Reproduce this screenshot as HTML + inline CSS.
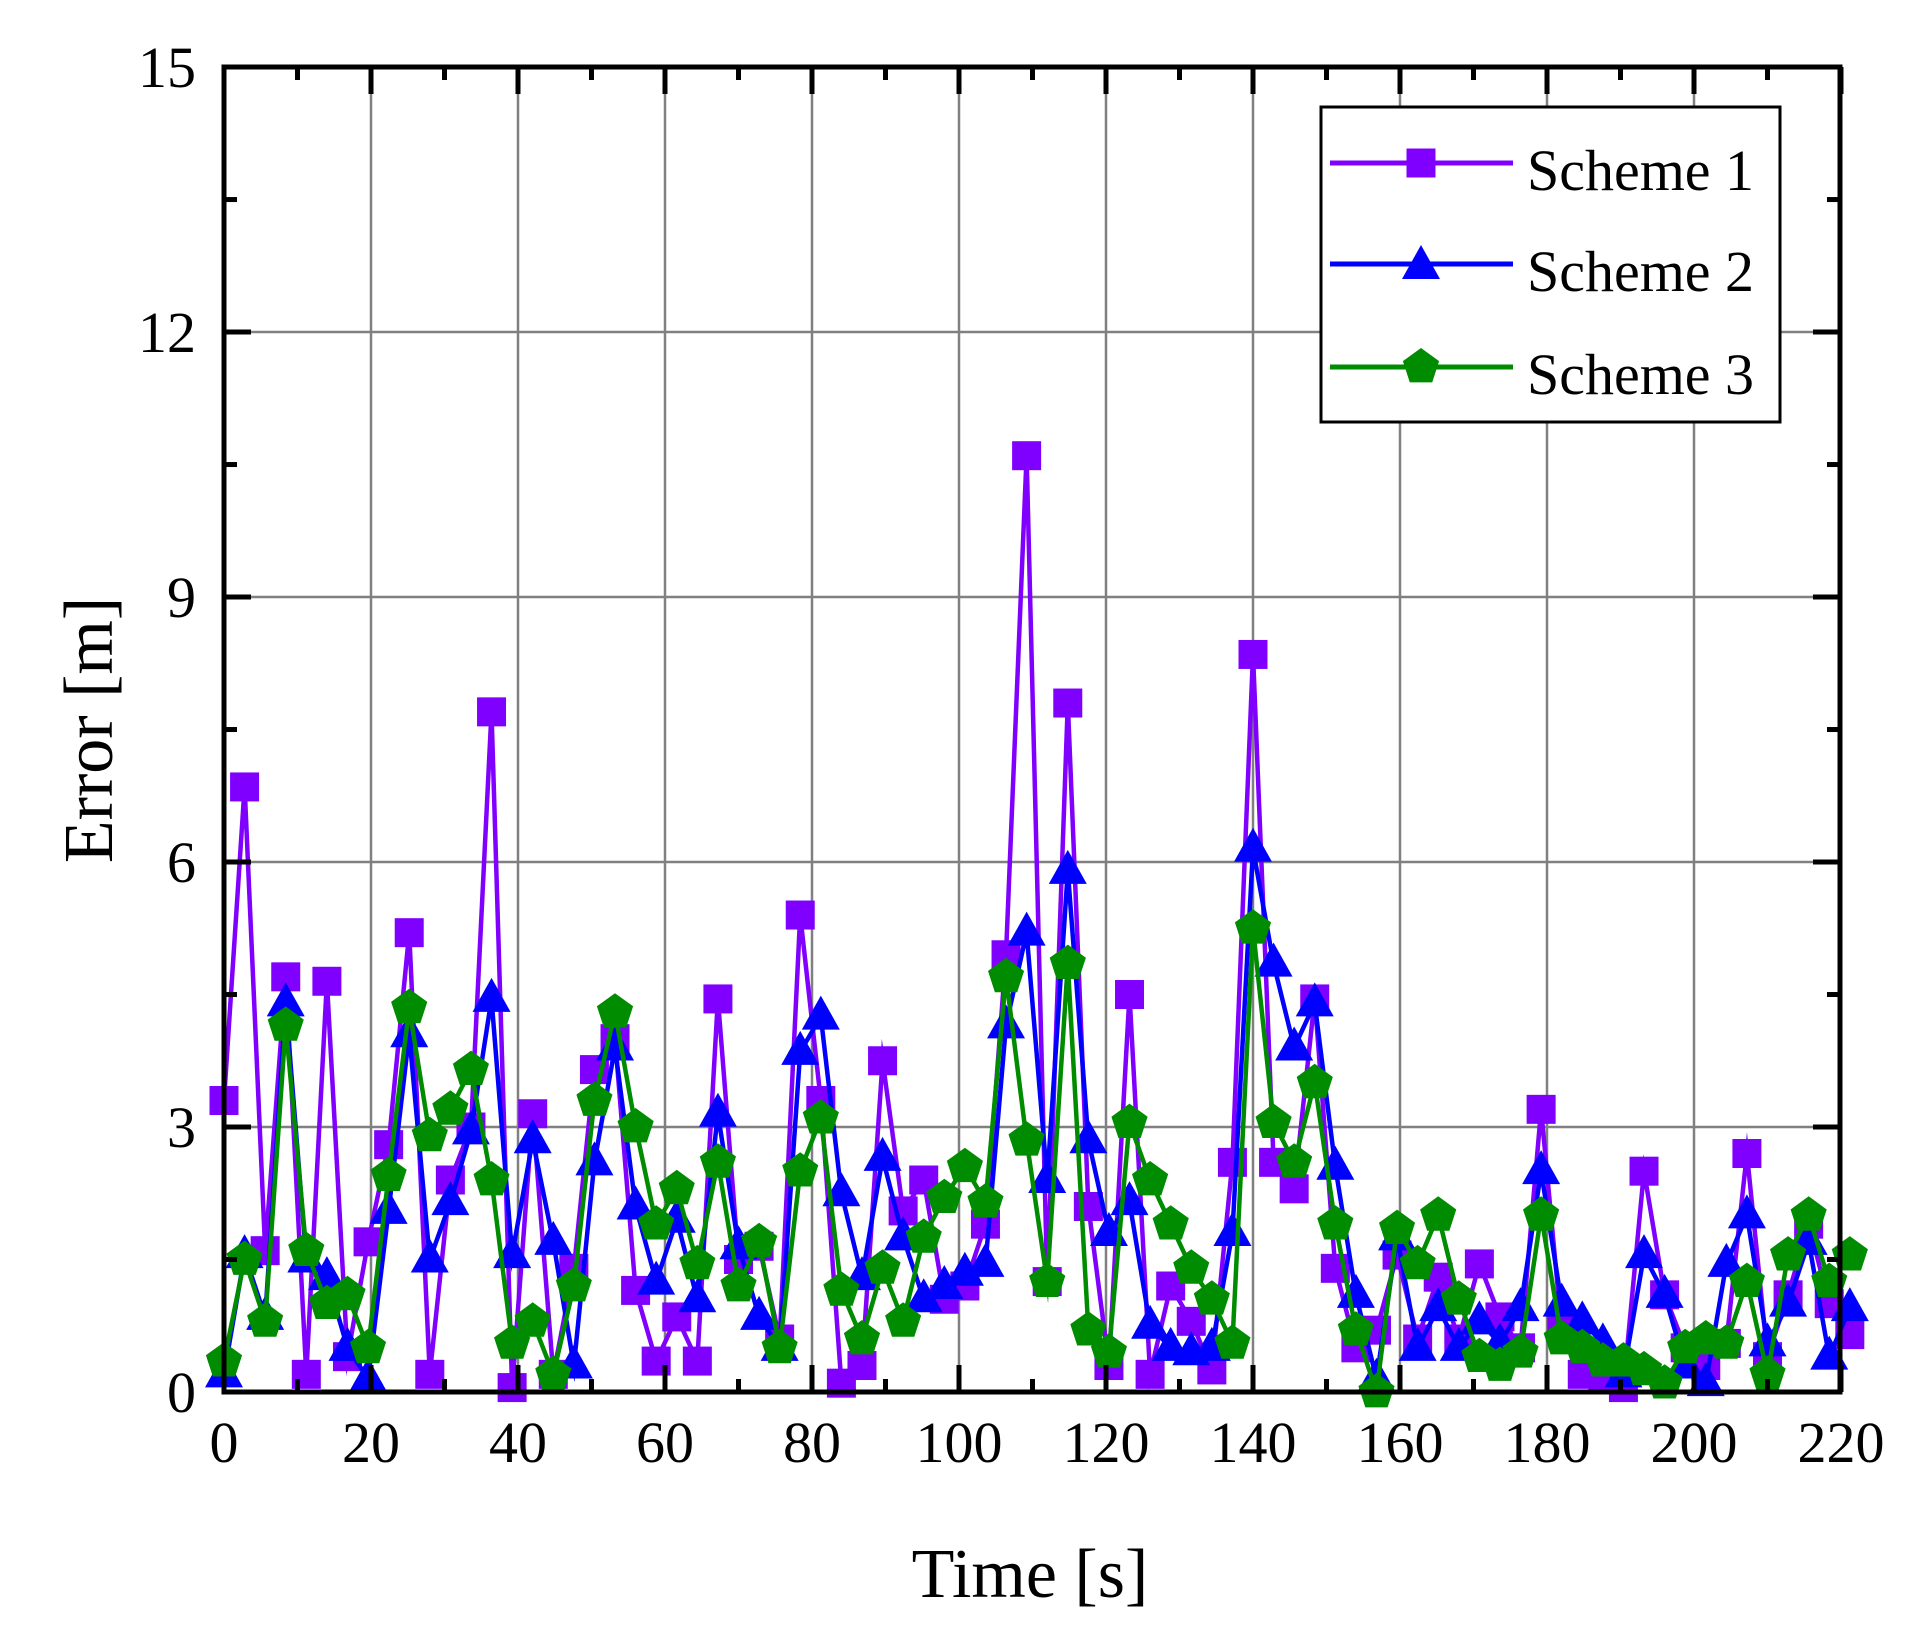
<!DOCTYPE html>
<html><head><meta charset="utf-8"><style>
html,body{margin:0;padding:0;background:#fff;}
svg{display:block;}
text{font-family:"Liberation Serif",serif;fill:#000;}
</style></head><body>
<svg id="s" width="1920" height="1644" viewBox="0 0 1920 1644" xmlns="http://www.w3.org/2000/svg">
<rect width="1920" height="1644" fill="#fff"/>
<g id="grid"></g>
<g id="data"></g>
<g id="axes"></g>
<text x="1030" y="1597" font-size="70" text-anchor="middle">Time [s]</text>
<text transform="translate(112,730) rotate(-90)" font-size="70" text-anchor="middle">Error [m]</text>
<g id="legend">
<rect x="1321" y="107" width="459" height="315" fill="#fff" stroke="#000" stroke-width="3"/>
</g>
</svg>
<script>
var NS="http://www.w3.org/2000/svg";
function X(t){return 224+t*7.35;}
function Y(v){return 1392-v*88.33;}
function el(p,n,a,txt){var e=document.createElementNS(NS,n);for(var k in a)e.setAttribute(k,a[k]);if(txt!==undefined)e.textContent=txt;document.getElementById(p).appendChild(e);return e;}
// grid
for(var t=20;t<220;t+=20)el("grid","line",{x1:X(t),x2:X(t),y1:67,y2:1392,stroke:"#808080","stroke-width":2.5});
for(var v=3;v<15;v+=3)el("grid","line",{x1:224,x2:1840,y1:Y(v),y2:Y(v),stroke:"#808080","stroke-width":2.5});
// axes
el("axes","rect",{x:224,y:67,width:1616,height:1325,fill:"none",stroke:"#000","stroke-width":5});
for(var t=0;t<=220;t+=10){var L=(t%20==0)?27:13;
 el("axes","line",{x1:X(t),x2:X(t),y1:1392,y2:1392-L,stroke:"#000","stroke-width":5});
 el("axes","line",{x1:X(t),x2:X(t),y1:67,y2:67+L,stroke:"#000","stroke-width":5});
 if(t%20==0)el("axes","text",{x:X(t),y:1462,"font-size":58,"text-anchor":"middle"},String(t));}
for(var i=0;i<=10;i++){var v=i*1.5;var L=(i%2==0)?27:13;
 el("axes","line",{x1:224,x2:224+L,y1:Y(v),y2:Y(v),stroke:"#000","stroke-width":5});
 el("axes","line",{x1:1840,x2:1840-L,y1:Y(v),y2:Y(v),stroke:"#000","stroke-width":5});
 if(i%2==0)el("axes","text",{x:196,y:Y(v)+20,"font-size":58,"text-anchor":"end"},String(v));}
var s1=[3.3,6.85,1.6,4.7,0.2,4.65,0.4,1.7,2.8,5.2,0.2,2.4,3.0,7.7,0.05,3.15,0.2,1.4,3.65,4.0,1.15,0.35,0.85,0.35,4.45,1.5,1.65,0.6,5.4,3.3,0.1,0.3,3.75,2.05,2.4,1.05,1.2,1.9,4.95,10.6,1.25,7.8,2.1,0.3,4.5,0.2,1.2,0.8,0.25,2.6,8.35,2.6,2.3,4.45,1.4,0.5,0.7,1.55,0.6,1.3,0.6,1.45,0.85,0.5,3.2,0.7,0.2,0.15,0.05,2.5,1.1,0.5,0.3,0.55,2.7,0.4,1.1,1.9,1.0,0.65];
var s2=[0.2,1.55,0.85,4.4,1.5,1.3,0.5,0.15,2.05,4.05,1.5,2.15,2.95,4.45,1.55,2.85,1.7,0.3,2.6,3.9,2.1,1.25,1.95,1.05,3.15,1.65,0.85,0.5,3.85,4.25,2.25,1.3,2.65,1.75,1.05,1.2,1.35,1.45,4.15,5.2,2.4,5.9,2.85,1.8,2.15,0.75,0.5,0.45,0.5,1.8,6.15,4.85,3.9,4.4,2.55,1.1,0.15,1.75,0.5,0.95,0.5,0.8,0.55,0.95,2.5,1.0,0.8,0.55,0.2,1.55,1.1,0.3,0.1,1.45,2.0,0.55,1.0,1.7,0.4,0.95];
var s3=[0.35,1.5,0.8,4.15,1.6,1.0,1.1,0.5,2.45,4.35,2.9,3.2,3.65,2.4,0.55,0.8,0.2,1.2,3.3,4.3,3.0,1.9,2.3,1.45,2.6,1.2,1.7,0.5,2.5,3.1,1.15,0.6,1.4,0.8,1.75,2.2,2.55,2.15,4.7,2.85,1.25,4.85,0.7,0.45,3.05,2.4,1.9,1.4,1.05,0.55,5.25,3.05,2.6,3.5,1.9,0.7,0.0,1.85,1.45,2.0,1.05,0.4,0.3,0.45,2.0,0.6,0.5,0.35,0.35,0.25,0.1,0.5,0.6,0.55,1.25,0.2,1.55,2.0,1.25,1.55];
var cols=["#8000ff","#0000ff","#008c00"];
function mk(g,type,cx,cy,c){
 if(type==0)el(g,"rect",{x:cx-14.5,y:cy-14.5,width:29,height:29,fill:c});
 else if(type==1)el(g,"polygon",{points:(cx)+","+(cy-21)+" "+(cx+19)+","+(cy+13)+" "+(cx-19)+","+(cy+13),fill:c});
 else{var p=[];for(var k=0;k<5;k++){var a=-Math.PI/2+k*2*Math.PI/5;p.push((cx+19*Math.cos(a)).toFixed(1)+","+(cy+19*Math.sin(a)).toFixed(1));}
  el(g,"polygon",{points:p.join(" "),fill:c});}
}
[s1,s2,s3].forEach(function(s,j){
 var pts=s.map(function(v,i){return X(i*2.8).toFixed(1)+","+Y(v).toFixed(1);}).join(" ");
 el("data","polyline",{points:pts,fill:"none",stroke:cols[j],"stroke-width":4.5,"stroke-linejoin":"miter","stroke-miterlimit":10});
 s.forEach(function(v,i){mk("data",j,X(i*2.8),Y(v),cols[j]);});
});
// legend
var ly=[163,264,367],names=["Scheme 1","Scheme 2","Scheme 3"];
for(var j=0;j<3;j++){
 el("legend","line",{x1:1330,x2:1513,y1:ly[j],y2:ly[j],stroke:cols[j],"stroke-width":5});
 mk("legend",j,1421,ly[j]+(j==1?2:0),cols[j]);
 el("legend","text",{x:1527,y:ly[j]+27,"font-size":58,textLength:227,lengthAdjust:"spacingAndGlyphs"},names[j]);
}
</script>
</body></html>
